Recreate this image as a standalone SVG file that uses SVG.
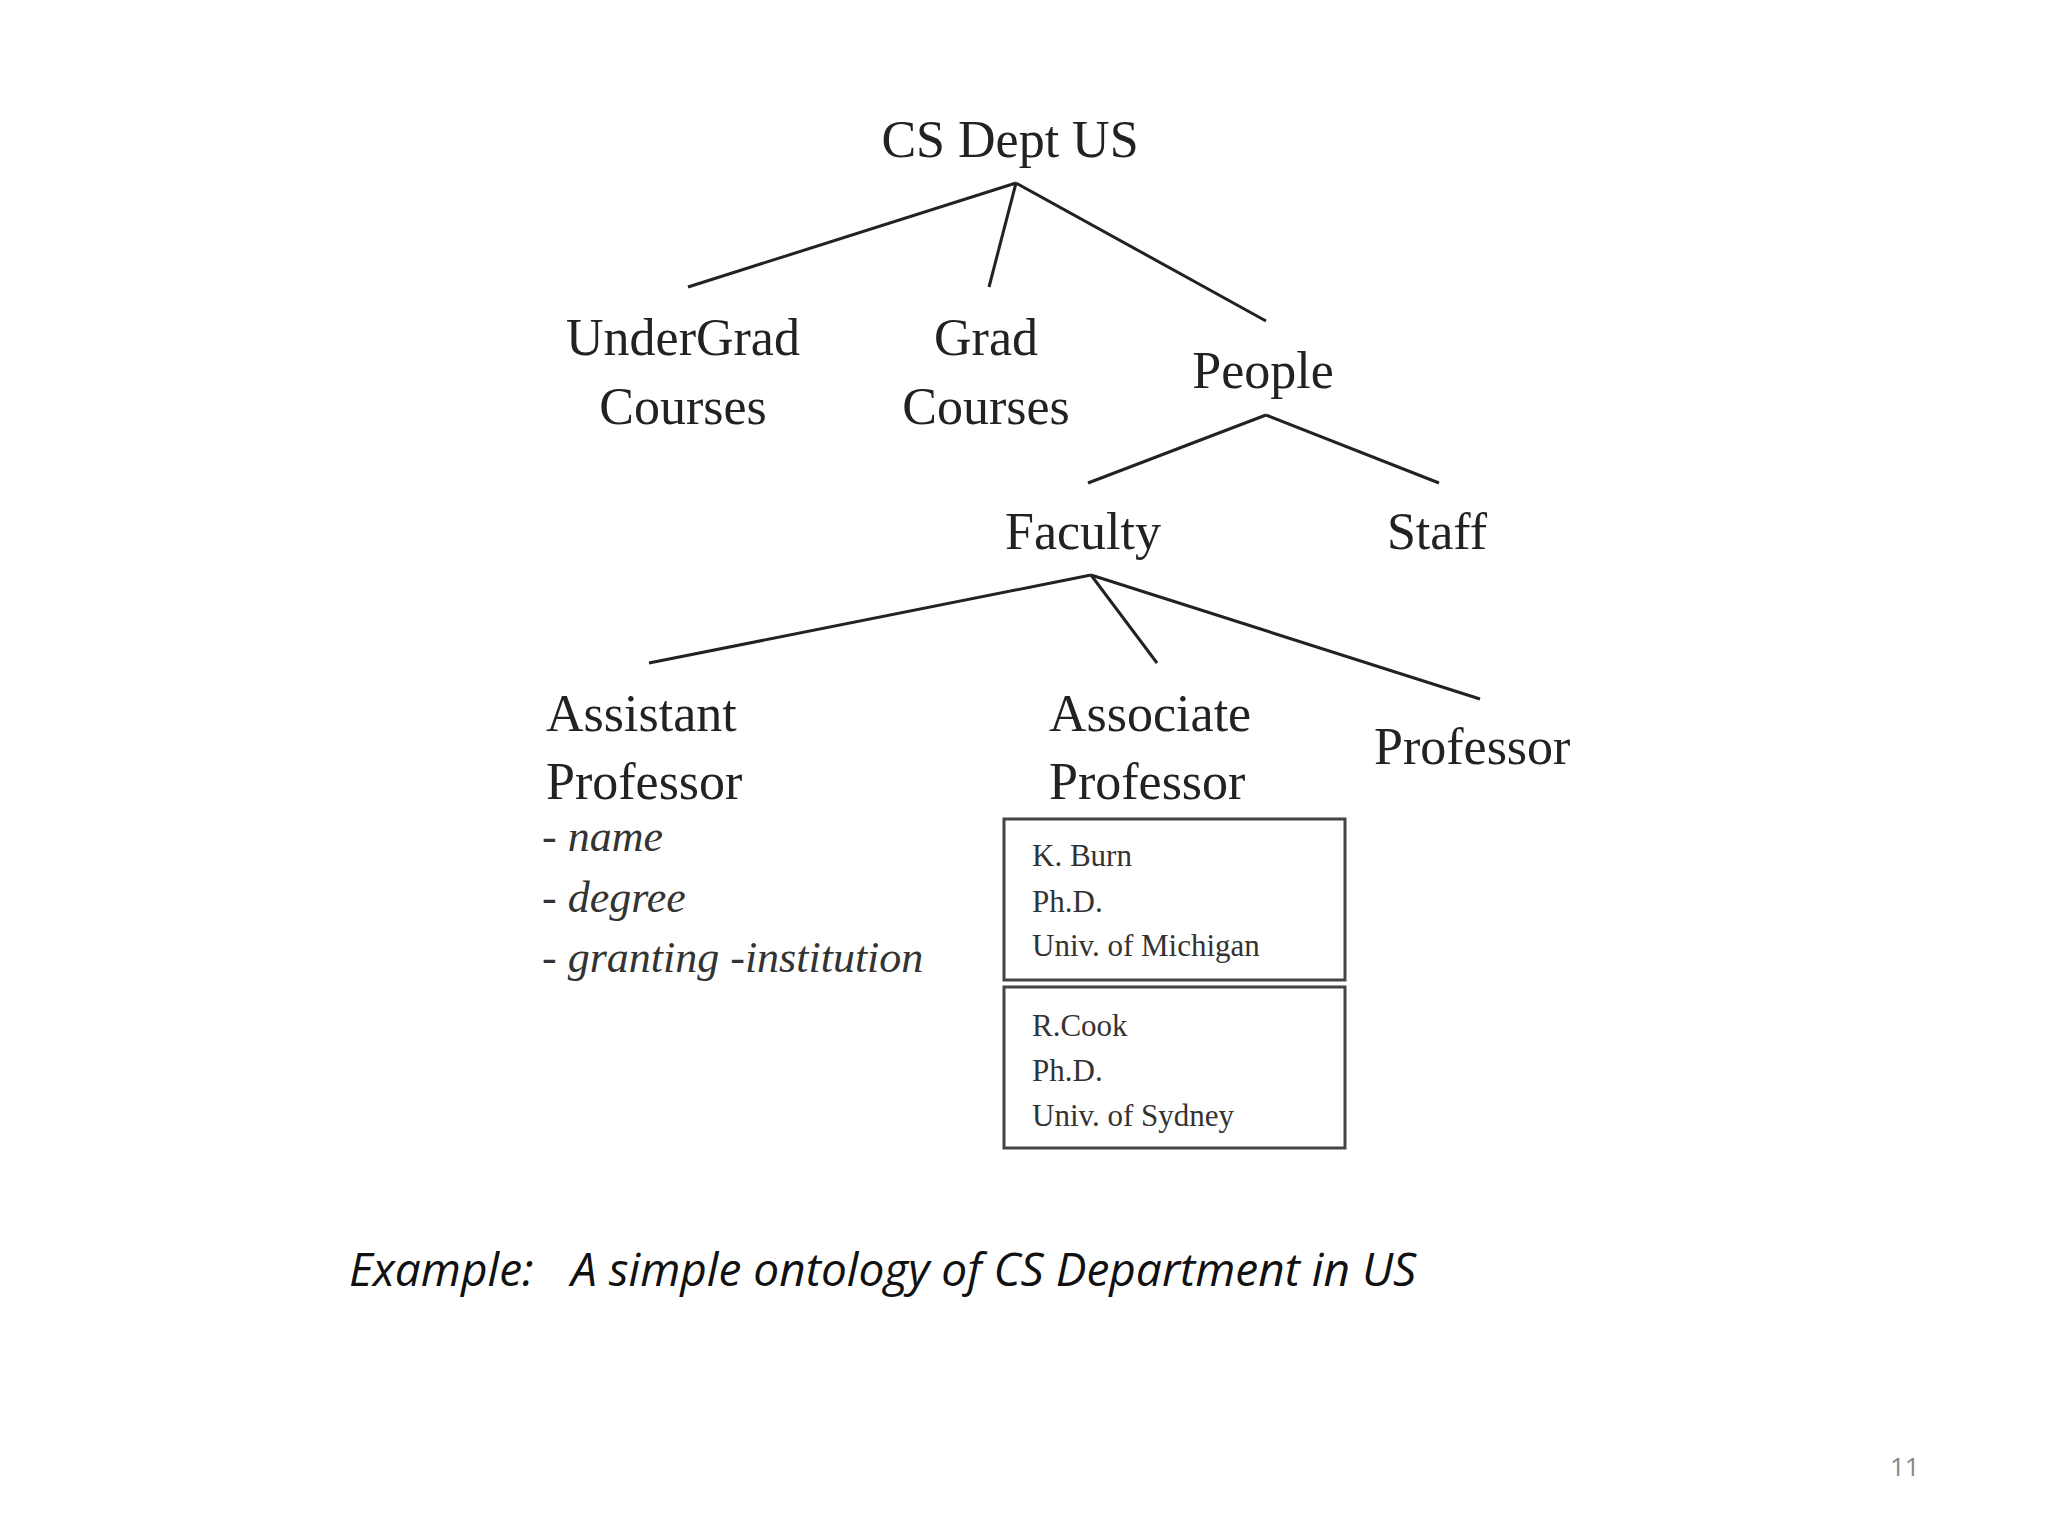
<svg xmlns="http://www.w3.org/2000/svg" width="2048" height="1536" viewBox="0 0 2048 1536">
<style>
.t{font-family:"Liberation Serif",serif;font-size:52px;fill:#222;text-anchor:middle}
.l{font-family:"Liberation Serif",serif;font-size:52px;fill:#222}
.i{font-family:"Liberation Serif",serif;font-size:44px;font-style:italic;fill:#333}
.s{font-family:"Liberation Serif",serif;font-size:31px;fill:#333}
.c{stroke:#222;stroke-width:3;fill:none}
.b{stroke:#444;stroke-width:3;fill:#fff}
.cap{font-family:"Open Sans",sans-serif;font-style:italic;font-size:46px;fill:#111}
</style>
<rect width="2048" height="1536" fill="#fff"/>
<g id="connectors" class="c">
<line x1="1016" y1="183" x2="688" y2="287"/>
<line x1="1016" y1="183" x2="989" y2="287"/>
<line x1="1016" y1="183" x2="1266" y2="321"/>
<line x1="1266" y1="415" x2="1088" y2="483"/>
<line x1="1266" y1="415" x2="1439" y2="483"/>
<line x1="1091" y1="575" x2="649" y2="663"/>
<line x1="1091" y1="575" x2="1157" y2="663"/>
<line x1="1091" y1="575" x2="1480" y2="699"/>
</g>
<g id="root"><text class="t" x="1010" y="157">CS Dept US</text></g>
<g id="undergrad"><text class="t" x="683" y="355">UnderGrad</text><text class="t" x="683" y="424">Courses</text></g>
<g id="grad"><text class="t" x="986" y="355">Grad</text><text class="t" x="986" y="424">Courses</text></g>
<g id="people"><text class="t" x="1263" y="388">People</text></g>
<g id="faculty"><text class="t" x="1083" y="549">Faculty</text></g>
<g id="staff"><text class="t" x="1437" y="549">Staff</text></g>
<g id="assistant">
<text class="l" x="546" y="731">Assistant</text><text class="l" x="546" y="799">Professor</text>
<text class="i" x="542" y="851">- name</text>
<text class="i" x="542" y="912">- degree</text>
<text class="i" x="542" y="972">- granting -institution</text>
</g>
<g id="associate"><text class="l" x="1049" y="731">Associate</text><text class="l" x="1049" y="799">Professor</text></g>
<g id="professor"><text class="l" x="1374" y="764">Professor</text></g>
<g id="kburn"><rect class="b" x="1004" y="819" width="341" height="161"/>
<text class="s" x="1032" y="866">K. Burn</text><text class="s" x="1032" y="912">Ph.D.</text><text class="s" x="1032" y="956">Univ. of Michigan</text></g>
<g id="rcook"><rect class="b" x="1004" y="987" width="341" height="161"/>
<text class="s" x="1032" y="1036">R.Cook</text><text class="s" x="1032" y="1081">Ph.D.</text><text class="s" x="1032" y="1126">Univ. of Sydney</text></g>
<g id="caption">
<text class="cap" x="349" y="1286">Example:</text>
<text class="cap" x="571" y="1286">A simple ontology of CS Department in US</text>
</g>
<text x="1890" y="1476" font-family="Open Sans,sans-serif" font-size="26" fill="#888">11</text>
</svg>
